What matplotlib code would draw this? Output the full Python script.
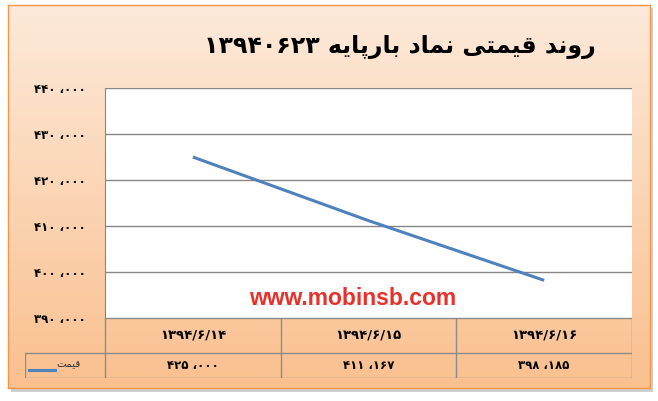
import matplotlib
matplotlib.use("Agg")
import matplotlib.pyplot as plt
from matplotlib.patches import Rectangle
import numpy as np

# data
dates = ["1394/6/14", "1394/6/15", "1394/6/16"]
prices = [425000, 411167, 398185]
yticks = [390000, 400000, 410000, 420000, 430000, 440000]

# Persian text, pre-shaped (presentation forms, visual order) since matplotlib has no bidi
title_words = ["\uFEAA\uFEE7\uFEED\uFEAD",                      # روند
               "\uFEF0\uFE98\uFEE4\uFEF4\uFED7",                # قیمتی
               "\uFEA9\uFE8E\uFEE4\uFEE7",                      # نماد
               "\uFEEA\uFEF3\uFE8E\uFB58\uFEAD\uFE8E\uFE91"]    # بارپایه
title_num = "13940623"
legend_label = "\uFE96\uFEE4\uFEF4\uFED7"                       # قیمت

fa = str.maketrans("0123456789", "۰۱۲۳۴۵۶۷۸۹")


def fa_num(v):
    s = f"{v:,}".split(",")
    return (s[0] + " ،" + s[1]).translate(fa)


W, H = 658, 401
fig = plt.figure(figsize=(W / 100, H / 100), dpi=100)
fig.patch.set_facecolor("white")


def box(x0, y0, x1, y1):
    return [x0 / W, 1 - y1 / H, (x1 - x0) / W, (y1 - y0) / H]


# shadow + gradient frame
sh = fig.add_axes(box(11, 8, 653, 392), zorder=-2)
sh.axis("off")
sh.add_patch(Rectangle((0, 0), 1, 1, transform=sh.transAxes, color="#cfcfcf"))
bg = fig.add_axes(box(8, 5, 650, 388), zorder=-1)
c1 = np.array([253, 234, 218]) / 255
c2 = np.array([250, 192, 143]) / 255
t = np.linspace(0, 1, 256)[:, None]
grad = c1 + (c2 - c1) * t
bg.imshow(grad[:, None, :].repeat(2, axis=1), aspect="auto", extent=[0, 1, 0, 1])
bg.set_xticks([])
bg.set_yticks([])
for s in bg.spines.values():
    s.set_color("#F79646")
    s.set_linewidth(1)

# title
title = title_num.translate(fa) + " " + " ".join(reversed(title_words))
fig.text(400 / W, 1 - 47 / H, title, ha="center", va="center",
         fontsize=17, fontweight="bold", family="DejaVu Sans", color="black")

# plot area
ax = fig.add_axes(box(105, 88, 632, 318))
ax.set_facecolor("white")
x = np.arange(len(prices))
ax.plot(x, prices, color="#4F81BD", lw=2.2, solid_capstyle="butt")
ax.set_xlim(-0.5, 2.5)
ax.set_ylim(390000, 440000)
ax.set_yticks(yticks)
ax.set_yticklabels([fa_num(v) for v in yticks], fontsize=8.5, fontweight="bold",
                   family="DejaVu Sans")
ax.tick_params(axis="y", length=0, pad=14)
ax.set_xticks([])
ax.grid(axis="y", color="#868686", lw=1)
for s in ax.spines.values():
    s.set_visible(False)
ax.spines["left"].set_visible(True)
ax.spines["left"].set_color("#868686")
ax.text(0.47, 0.085, "www.mobinsb.com", transform=ax.transAxes, ha="center", va="center",
        color="#E8312B", fontsize=16.5, fontweight="bold", family="Liberation Sans")

# data table
tb = fig.add_axes(box(25, 318, 632, 378))
tb.patch.set_alpha(0)
left = -0.5 - 80 / 175.67
tb.set_xlim(left, 2.5)
tb.set_ylim(0, 60)
tb.axis("off")
gc = "#8c8c8c"
tb.plot([-0.5, 2.5], [60, 60], color=gc, lw=1)
tb.plot([left, 2.5], [25, 25], color=gc, lw=1)
tb.plot([left, 2.5], [0, 0], color=gc, lw=1)
tb.plot([left, left], [0, 25], color=gc, lw=1)
for xv in [-0.5, 0.5, 1.5, 2.5]:
    tb.plot([xv, xv], [0, 60], color=gc, lw=1)
for i, (d, p) in enumerate(zip(dates, prices)):
    tb.text(i, 42.5, d.translate(fa), ha="center", va="center", fontsize=9.5,
            fontweight="bold", family="DejaVu Sans")
    tb.text(i, 12.5, fa_num(p), ha="center", va="center", fontsize=8.5,
            fontweight="bold", family="DejaVu Sans")
# legend key inside the table
tb.plot([left + 0.02, left + 0.17], [8, 8], color="#4F81BD", lw=2.2)
tb.text(left + 0.18, 14, legend_label, ha="left", va="center", fontsize=7.5,
        family="DejaVu Sans", color="#333333")

fig.savefig("out.png", dpi=100)
